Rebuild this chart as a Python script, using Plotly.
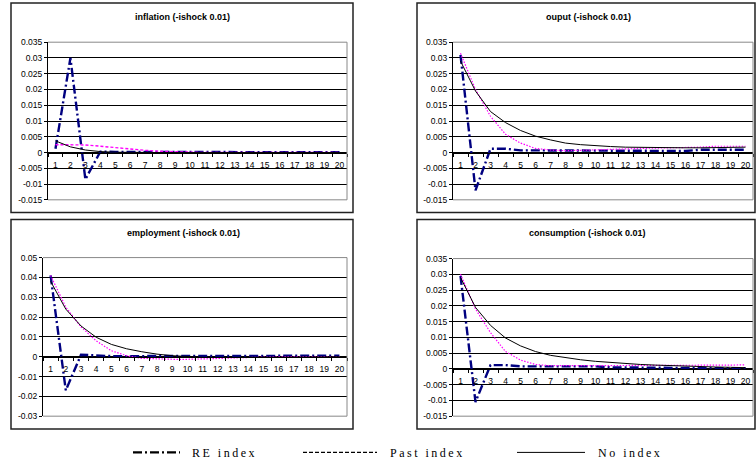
import plotly.graph_objects as go

# ---------------- data ----------------
periods = [str(i) for i in range(1, 21)]

infl_re   = [0.0012, 0.0300, -0.0085, 0.0003, 0.0002, 0.0002, 0.0001, 0.0001, 0.0001, 0.0001,
             0.0001, 0.0001, 0.0001, 0.0001, 0.0001, 0.0001, 0.0001, 0.0001, 0.0001, 0.0001]
infl_past = [0.0025, 0.0025, 0.0024, 0.0020, 0.0015, 0.0011, 0.0007, 0.0004, 0.0002, 0.0001,
             0.0000, 0.0000, 0.0000, 0.0000, 0.0000, 0.0000, 0.0000, 0.0000, 0.0000, 0.0000]
infl_no   = [0.0037, 0.0018, 0.0008, 0.0003, 0.0001, 0.0000, 0.0000, 0.0000, 0.0000, 0.0000,
             0.0000, 0.0000, 0.0000, 0.0000, 0.0000, 0.0000, 0.0000, 0.0000, 0.0000, 0.0000]

out_re   = [0.0310, -0.0120, 0.0012, 0.0012, 0.0007, 0.0007, 0.0007, 0.0007, 0.0007, 0.0007,
            0.0005, 0.0005, 0.0005, 0.0005, 0.0005, 0.0005, 0.0009, 0.0009, 0.0009, 0.0009]
out_past = [0.0315, 0.0200, 0.0115, 0.0058, 0.0030, 0.0013, 0.0008, 0.0006, 0.0007, 0.0009,
            0.0010, 0.0012, 0.0013, 0.0014, 0.0015, 0.0015, 0.0017, 0.0020, 0.0020, 0.0020]
out_no   = [0.0290, 0.0195, 0.0130, 0.0095, 0.0070, 0.0052, 0.0040, 0.0030, 0.0025, 0.0021,
            0.0019, 0.0017, 0.0016, 0.0015, 0.0015, 0.0015, 0.0015, 0.0016, 0.0016, 0.0017]

emp_re   = [0.0410, -0.0170, 0.0010, 0.0005, 0.0003, 0.0003, 0.0003, 0.0003, 0.0003, 0.0003,
            0.0002, 0.0002, 0.0002, 0.0002, 0.0002, 0.0003, 0.0003, 0.0004, 0.0004, 0.0005]
emp_past = [0.0410, 0.0250, 0.0150, 0.0080, 0.0030, 0.0005, -0.0008, -0.0012, -0.0013, -0.0013,
            -0.0012, -0.0009, -0.0006, -0.0003, -0.0001, 0.0000, 0.0000, 0.0000, 0.0000, 0.0000]
emp_no   = [0.0380, 0.0240, 0.0155, 0.0098, 0.0062, 0.0040, 0.0025, 0.0013, 0.0005, 0.0000,
            -0.0003, -0.0004, -0.0004, -0.0003, -0.0003, -0.0002, -0.0002, -0.0001, -0.0001, 0.0000]

cons_re   = [0.0295, -0.0105, 0.0012, 0.0012, 0.0008, 0.0008, 0.0008, 0.0008, 0.0008, 0.0008,
             0.0005, 0.0005, 0.0004, 0.0004, 0.0003, 0.0003, 0.0002, 0.0002, 0.0002, 0.0002]
cons_past = [0.0300, 0.0190, 0.0115, 0.0055, 0.0028, 0.0014, 0.0010, 0.0010, 0.0010, 0.0010,
             0.0010, 0.0011, 0.0011, 0.0011, 0.0012, 0.0012, 0.0012, 0.0012, 0.0012, 0.0013]
cons_no   = [0.0290, 0.0195, 0.0138, 0.0098, 0.0073, 0.0055, 0.0043, 0.0035, 0.0029, 0.0024,
             0.0020, 0.0017, 0.0014, 0.0012, 0.0010, 0.0008, 0.0007, 0.0006, 0.0005, 0.0004]

titles = ["inflation (-ishock 0.01)", "ouput (-ishock 0.01)",
          "employment (-ishock 0.01)", "consumption (-ishock 0.01)"]
series_names = ["RE index", "Past index", "No index"]

ticks_a = [-0.015, -0.01, -0.005, 0, 0.005, 0.01, 0.015, 0.02, 0.025, 0.03, 0.035]
ticklabels_a = ["-0.015", "-0.01", "-0.005", "0", "0.005", "0.01", "0.015", "0.02", "0.025", "0.03", "0.035"]
ticks_b = [-0.03, -0.02, -0.01, 0, 0.01, 0.02, 0.03, 0.04, 0.05]
ticklabels_b = ["-0.03", "-0.02", "-0.01", "0", "0.01", "0.02", "0.03", "0.04", "0.05"]

# ---------------- layout geometry (pixels) ----------------
W, H = 756, 476
def px(x): return x / W
def py(y): return 1 - y / H

panels = [
    dict(data=(infl_re, infl_past, infl_no), plot=(48, 347, 38, 199), box=(11, 353, -2, 212),
         ticks=ticks_a, labels=ticklabels_a, title_xy=(182, 12), past_dash="3px,2px", past_w=1.4),
    dict(data=(out_re, out_past, out_no), plot=(453, 753, 38, 199), box=(417, 755, -2, 212),
         ticks=ticks_a, labels=ticklabels_a, title_xy=(588, 12), past_dash="1.5px,1.5px", past_w=1.2),
    dict(data=(emp_re, emp_past, emp_no), plot=(43, 347, 258, 420), box=(11, 353, 219, 433),
         ticks=ticks_b, labels=ticklabels_b, title_xy=(183, 233), past_dash="1.5px,1.5px", past_w=1.2),
    dict(data=(cons_re, cons_past, cons_no), plot=(453, 753, 259, 420), box=(417, 755, 219, 433),
         ticks=ticks_a, labels=ticklabels_a, title_xy=(587, 233), past_dash="1.5px,1.5px", past_w=1.2),
]

fig = go.Figure()
shapes = []
annotations = []
FONT = "Liberation Sans, Arial, sans-serif"

for i, p in enumerate(panels):
    n = i + 1
    xa = "x" if n == 1 else f"x{n}"
    ya = "y" if n == 1 else f"y{n}"
    xl, xr, yt, yb = p["plot"]
    ymin, ymax = p["ticks"][0], p["ticks"][-1]
    styles = [
        dict(color="#000080", width=2.4, dash="9px,3px,2px,3px"),
        dict(color="#FF00FF", width=p["past_w"], dash=p["past_dash"]),
        dict(color="#000000", width=1.0, dash="solid"),
    ]
    for s, (vals, st) in enumerate(zip(p["data"], styles)):
        fig.add_trace(go.Scatter(x=periods, y=vals, mode="lines", line=st,
                                 xaxis=xa, yaxis=ya, showlegend=False, name=series_names[s]))
    dom_y = [py(yb), py(yt)]
    zero_pos = dom_y[0] + (0 - ymin) / (ymax - ymin) * (dom_y[1] - dom_y[0])
    xkey = "xaxis" if n == 1 else f"xaxis{n}"
    ykey = "yaxis" if n == 1 else f"yaxis{n}"
    fig.layout[xkey] = dict(domain=[px(xl), px(xr)], type="category", anchor="free",
                            position=zero_pos, categoryorder="array", categoryarray=periods,
                            range=[-0.5, len(periods) - 0.5], showgrid=False,
                            showline=True, linecolor="black", linewidth=1,
                            ticks="outside", tickson="boundaries", ticklen=3, tickcolor="black",
                            ticklabelstandoff=4,
                            tickfont=dict(family=FONT, size=8.5, color="black"),
                            tickangle=0, fixedrange=True)
    fig.layout[ykey] = dict(domain=dom_y, anchor=xa, range=[ymin, ymax],
                            tickmode="array", tickvals=p["ticks"], ticktext=p["labels"],
                            showgrid=True, gridcolor="black", gridwidth=1, zeroline=False,
                            showline=True, linecolor="black", linewidth=1,
                            ticks="outside", ticklen=3, tickcolor="black",
                            tickfont=dict(family=FONT, size=8.5, color="black"), fixedrange=True)
    # gray plot-area frame (top/right/bottom)
    shapes.append(dict(type="path", xref="paper", yref="paper",
                       path=f"M {px(xl)},{py(yt)} L {px(xr)},{py(yt)} L {px(xr)},{py(yb)} L {px(xl)},{py(yb)}",
                       line=dict(color="#888888", width=1), layer="above"))
    # panel box
    bl, br, bt, bb = p["box"]
    shapes.append(dict(type="rect", xref="paper", yref="paper",
                       x0=px(bl), x1=px(br), y0=py(bb), y1=py(bt),
                       line=dict(color="#222222", width=1.5), layer="above"))
    tx, ty = p["title_xy"]
    annotations.append(dict(text=f"<b>{titles[i]}</b>", xref="paper", yref="paper",
                            x=px(tx), y=py(ty), showarrow=False, xanchor="center", yanchor="middle",
                            font=dict(family=FONT, size=9, color="black")))

# ---------------- legend ----------------
leg_y = 457
leg_items = [(133, 180, 190, dict(color="black", width=2.2, dash="9px,3px,2px,3px")),
             (303, 377, 388, dict(color="black", width=1.2, dash="4px,2px")),
             (517, 585, 596, dict(color="black", width=1, dash="solid"))]
for name, (x0, x1, tx, ln) in zip(series_names, leg_items):
    shapes.append(dict(type="line", xref="paper", yref="paper", x0=px(x0), x1=px(x1),
                       y0=py(leg_y), y1=py(leg_y), line=ln))
    annotations.append(dict(text=f'<span style="letter-spacing:2.5px">{name}</span>',
                            xref="paper", yref="paper", x=px(tx), y=py(leg_y + 1),
                            showarrow=False, xanchor="left", yanchor="middle",
                            font=dict(family="Liberation Serif, Times New Roman, serif", size=12, color="black")))

fig.update_layout(width=W, height=H, margin=dict(l=0, r=0, t=0, b=0),
                  paper_bgcolor="white", plot_bgcolor="white",
                  shapes=shapes, annotations=annotations, showlegend=False)

fig.write_html("out.html")
